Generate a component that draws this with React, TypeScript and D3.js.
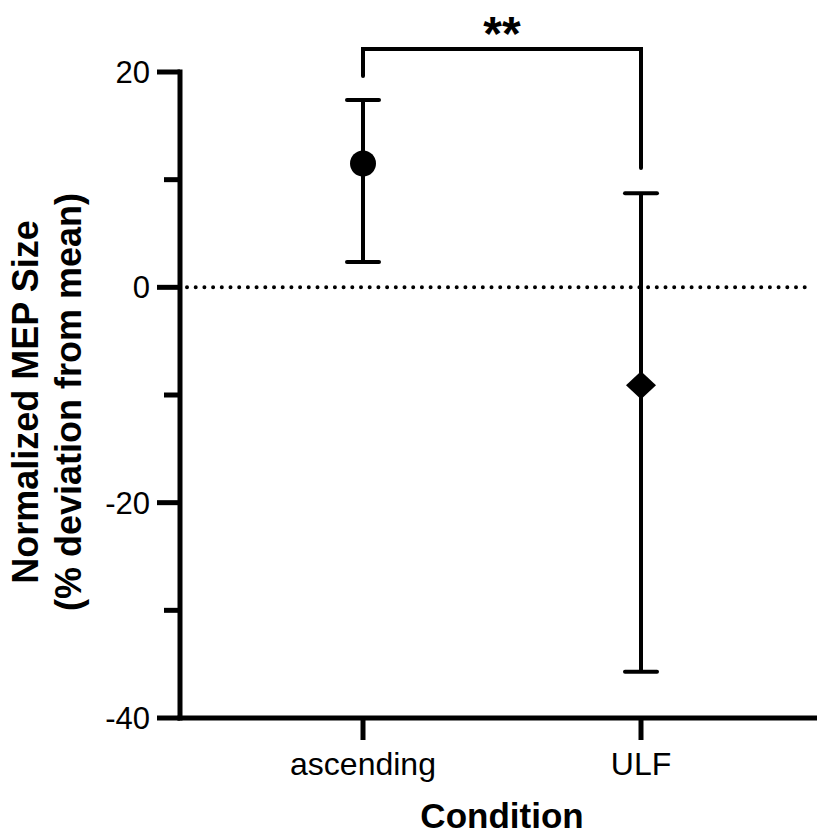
import React from "react";
import * as d3 from "d3";

// Conditions and summary statistics (mean with error-bar limits)
const conditions = ["ascending", "ULF"];
const means = [11.5, -9.1];
const upper = [17.4, 8.75];
const lower = [2.35, -35.7];
const markers = ["circle", "diamond"];

const majorTicks = [20, 0, -20, -40];
const minorTicks = [10, -10, -30];
const significance = "**";

const W = 817;
const H = 834;
const FONT = "'Liberation Sans', Arial, Helvetica, sans-serif";

export default function App() {
  const y = d3.scaleLinear().domain([-40, 20]).range([718, 72]);
  const x = d3.scalePoint<string>().domain(conditions).range([363, 641]);

  const axisX = 180;
  const axisY = y(-40);
  const black = "#000";

  const diamond = (cx: number, cy: number, hw: number, hh: number) =>
    `M${cx},${cy - hh}L${cx + hw},${cy}L${cx},${cy + hh}L${cx - hw},${cy}Z`;

  const x0 = x(conditions[0])!;
  const x1 = x(conditions[1])!;
  const bracketTop = 49;

  return (
    <svg
      width={W}
      height={H}
      style={{ position: "absolute", left: 0, top: 0, background: "#fff" }}
      fontFamily={FONT}
    >
      <rect width={W} height={H} fill="#fff" />

      {/* zero reference line */}
      <line
        x1={axisX + 7}
        x2={812}
        y1={y(0)}
        y2={y(0)}
        stroke={black}
        strokeWidth={4}
        strokeDasharray="0 8.7"
        strokeLinecap="round"
      />

      {/* error bars and markers */}
      {conditions.map((c, i) => {
        const cx = x(c)!;
        return (
          <g key={c}>
            <line x1={cx} x2={cx} y1={y(upper[i])} y2={y(lower[i])} stroke={black} strokeWidth={4} />
            <line x1={cx - 16} x2={cx + 16} y1={y(upper[i])} y2={y(upper[i])} stroke={black} strokeWidth={4} strokeLinecap="round" />
            <line x1={cx - 16} x2={cx + 16} y1={y(lower[i])} y2={y(lower[i])} stroke={black} strokeWidth={4} strokeLinecap="round" />
            {markers[i] === "circle" ? (
              <circle cx={cx} cy={y(means[i])} r={13} fill={black} />
            ) : (
              <path d={diamond(cx, y(means[i]), 15, 14)} fill={black} />
            )}
          </g>
        );
      })}

      {/* significance bracket */}
      <path
        d={`M${x0},76V${bracketTop}H${x1}V168`}
        fill="none"
        stroke={black}
        strokeWidth={4}
        strokeLinecap="round"
      />
      <text x={(x0 + x1) / 2} y={50} textAnchor="middle" fontSize={48} fontWeight="bold">
        {significance}
      </text>

      {/* y axis */}
      <line x1={axisX} x2={axisX} y1={y(20) - 2.5} y2={axisY + 2.5} stroke={black} strokeWidth={5} />
      {majorTicks.map((t) => (
        <g key={t}>
          <line x1={157} x2={axisX} y1={y(t)} y2={y(t)} stroke={black} strokeWidth={5} />
          <text x={150} y={y(t) + 11} textAnchor="end" fontSize={31}>
            {t}
          </text>
        </g>
      ))}
      {minorTicks.map((t) => (
        <line key={t} x1={164} x2={axisX} y1={y(t)} y2={y(t)} stroke={black} strokeWidth={5} />
      ))}

      {/* x axis */}
      <line x1={axisX - 2.5} x2={817} y1={axisY} y2={axisY} stroke={black} strokeWidth={5} />
      {conditions.map((c) => (
        <g key={c}>
          <line x1={x(c)!} x2={x(c)!} y1={axisY} y2={axisY + 22} stroke={black} strokeWidth={5} />
          <text x={x(c)!} y={775} textAnchor="middle" fontSize={32}>
            {c}
          </text>
        </g>
      ))}

      {/* axis titles */}
      <text x={502} y={828} textAnchor="middle" fontSize={35} fontWeight="bold">
        Condition
      </text>
      <g transform={`translate(38, 402) rotate(-90)`}>
        <text x={0} y={0} textAnchor="middle" fontSize={36} fontWeight="bold">
          Normalized MEP Size
        </text>
        <text x={0} y={43} textAnchor="middle" fontSize={36} fontWeight="bold">
          (% deviation from mean)
        </text>
      </g>
    </svg>
  );
}
